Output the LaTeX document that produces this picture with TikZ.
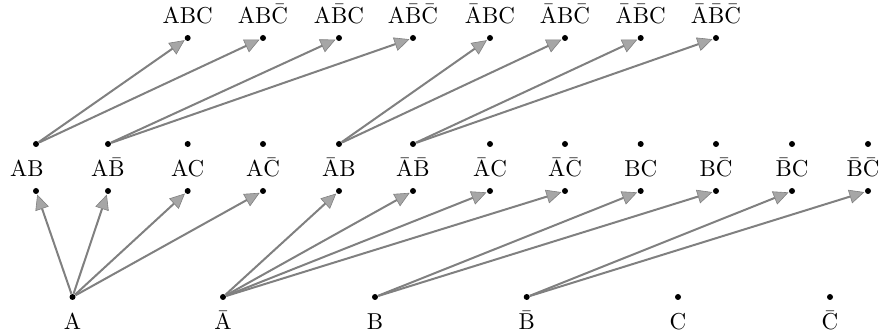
\documentclass[tikz,border=0pt]{standalone}
\usetikzlibrary{arrows.meta}
\newcommand{\barL}[1]{\ensuremath{\bar{\mathrm{#1}}}}
\newcommand{\lbx}[1]{\scalebox{1.15}{#1}}
\begin{document}
\begin{tikzpicture}[x=0.5pt,y=-0.5pt,
  dot/.style={circle,fill=black,inner sep=0pt,minimum size=3pt},
  lab/.style={anchor=base,inner sep=0pt},
  arr/.style={draw=black!50,line width=1pt,
    -{Triangle[length=7.5pt,width=7pt,line width=0.3pt,fill=black!35]},
    shorten >=0.2pt}]
\useasboundingbox (0,0) rectangle (882,335);
% bottom row
\foreach \n/\x/\t in {bA/72.5/A, bnA/223/\barL{A}, bB/375/B, bnB/526.7/\barL{B}, bC/678/C, bnC/830/\barL{C}}{
  \node[dot] (\n) at (\x,297) {};
  \node[lab] (\n-l) at (\x,330) {\lbx{\t}};
}
% middle row
\foreach \i/\x/\lx/\t in {1/36/27/AB, 2/108/108/A\barL{B}, 3/187.7/187.7/AC, 4/263/263/A\barL{C},
  5/339/339/\barL{A}B, 6/413/413/\barL{A}\barL{B}, 7/490/490/\barL{A}C, 8/565/565/\barL{A}\barL{C},
  9/640.7/640.7/BC, 10/716/716/B\barL{C}, 11/792/792/\barL{B}C, 12/868/863/\barL{B}\barL{C}}{
  \node[dot] (mu\i) at (\x,144) {};
  \node[dot] (ml\i) at (\x,191) {};
  \node[lab] (mt\i) at (\lx,177) {\lbx{\t}};
}
% top row
\foreach \i/\x/\t in {1/187.7/ABC, 2/263/AB\barL{C}, 3/339/A\barL{B}C, 4/413/A\barL{B}\barL{C},
  5/490/\barL{A}BC, 6/565/\barL{A}B\barL{C}, 7/640.7/\barL{A}\barL{B}C, 8/716/\barL{A}\barL{B}\barL{C}}{
  \node[dot] (t\i) at (\x,38) {};
  \node[lab] (tt\i) at (\x,23.5) {\lbx{\t}};
}
% arrows
\foreach \s/\d in {bA/ml1, bA/ml2, bA/ml3, bA/ml4,
  bnA/ml5, bnA/ml6, bnA/ml7, bnA/ml8,
  bB/ml9, bB/ml10, bnB/ml11, bnB/ml12,
  mu1/t1, mu1/t2, mu2/t3, mu2/t4, mu5/t5, mu5/t6, mu6/t7, mu6/t8}{
  \draw[arr] (\s) -- (\d);
}
\end{tikzpicture}
\end{document}
